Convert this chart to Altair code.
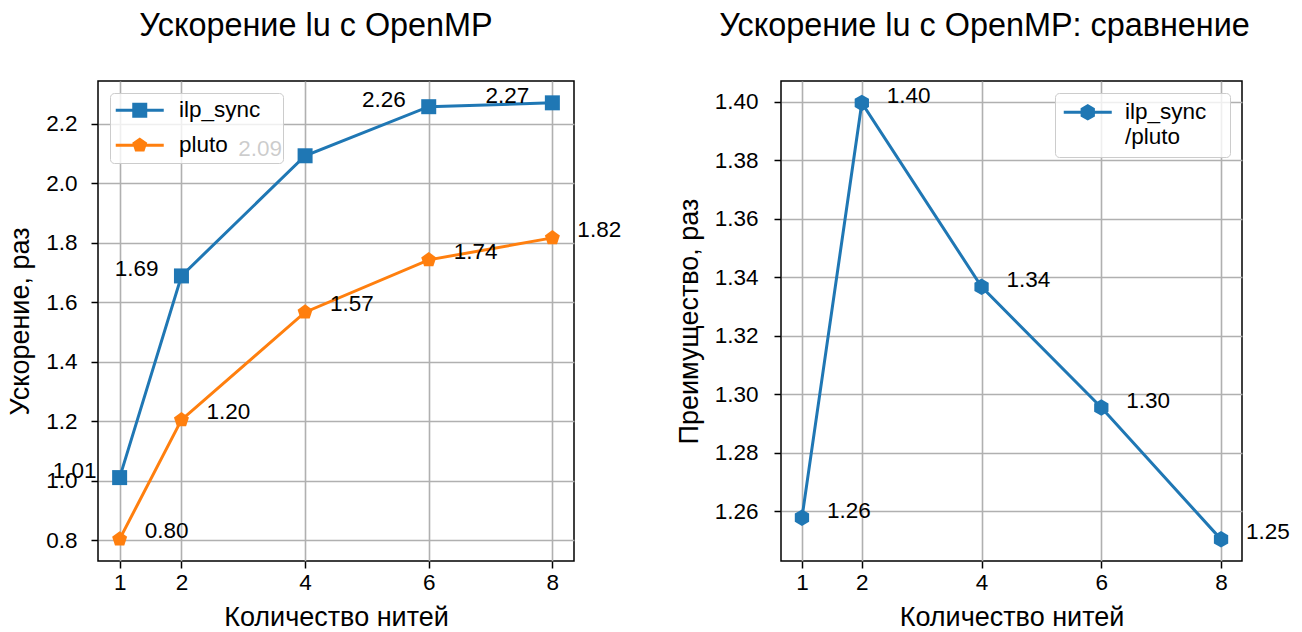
import altair as alt
import pandas as pd

# ---------------- data ----------------
threads = [1, 2, 4, 6, 8]
ilp_sync = [1.010, 1.688, 2.092, 2.257, 2.270]
pluto = [0.803, 1.204, 1.566, 1.742, 1.816]
ratio = [1.2577, 1.3996, 1.3367, 1.2954, 1.2503]
series_names = ["ilp_sync", "pluto"]
ratio_name = "ilp_sync/pluto"
x_ticks = [1, 2, 4, 6, 8]
left_y_ticks = [0.8, 1.0, 1.2, 1.4, 1.6, 1.8, 2.0, 2.2]
right_y_ticks = [1.26, 1.28, 1.30, 1.32, 1.34, 1.36, 1.38, 1.40]
title_left = "Ускорение lu с OpenMP"
title_right = "Ускорение lu с OpenMP: сравнение"
x_title = "Количество нитей"
y_title_left = "Ускорение, раз"
y_title_right = "Преимущество, раз"

# ---------------- styles ----------------
FONT = "Liberation Sans"
C_BLUE = "#1f77b4"
C_ORANGE = "#ff7f0e"
colors = [C_BLUE, C_ORANGE]
SQUARE = "M-1,-1H1V1H-1Z"
PENT = "M0,-1.05L0.999,-0.324L0.617,0.849L-0.617,0.849L-0.999,-0.324Z"
HEXA = "M0,-1.1L0.953,-0.55L0.953,0.55L0,1.1L-0.953,0.55L-0.953,-0.55Z"
LINE = "M-3.2,-0.2H3.2V0.2H-3.2Z "
# zero-area move-to that only widens the legend frame (matplotlib-like right padding)
WIDEN_L = " M18.3,0"
WIDEN_R = " M17.9,0"
MSIZE = 225
TICK_FS = 22.5
LABEL_FS = 27
TITLE_FS = 32.4

rows = []
for t, v in zip(threads, ilp_sync):
    rows.append({"threads": t, "value": v, "series": series_names[0]})
for t, v in zip(threads, pluto):
    rows.append({"threads": t, "value": v, "series": series_names[1]})
df_left = pd.DataFrame(rows)
df_right = pd.DataFrame({"threads": threads, "value": ratio, "series": [ratio_name] * len(threads)})


def x_enc():
    return alt.X(
        "threads:Q",
        scale=alt.Scale(domain=[0.65, 8.35], nice=False, zero=False),
        axis=alt.Axis(values=x_ticks, title=x_title, format="d"),
    )


def legend_params(extra=None):
    p = dict(
        title=None,
        orient="top-left",
        offset=12,
        padding=8,
        fillColor="rgba(255,255,255,0.8)",
        strokeColor="#cccccc",
        cornerRadius=4,
        labelFont=FONT,
        labelFontSize=TICK_FS,
        labelColor="black",
        symbolSize=MSIZE,
        symbolOffset=13.5,
        labelOffset=26,
        rowPadding=14,
        symbolStrokeWidth=0,
        symbolOpacity=1,
    )
    if extra:
        p.update(extra)
    return alt.Legend(**p)


# ---------------- left chart ----------------
y_left = alt.Y(
    "value:Q",
    scale=alt.Scale(domain=[0.7296, 2.3434], nice=False, zero=False),
    axis=alt.Axis(values=left_y_ticks, title=y_title_left, format=".1f", labelPadding=14),
)
color_left = alt.Scale(domain=series_names, range=colors)

base_left = alt.Chart(df_left)
lines_left = base_left.mark_line(strokeWidth=3).encode(
    x=x_enc(), y=y_left, color=alt.Color("series:N", scale=color_left, legend=None),
    detail="series:N",
)
points_left = base_left.mark_point(filled=True, opacity=1, size=MSIZE).encode(
    x=x_enc(), y=y_left,
    color=alt.Color("series:N", scale=color_left, legend=None),
    shape=alt.Shape("series:N", scale=alt.Scale(domain=series_names, range=[SQUARE, PENT]), legend=None),
)
text_ilp = base_left.transform_filter(alt.datum.series == series_names[0]).mark_text(
    align="right", baseline="middle", dx=-23, dy=-7, font=FONT, fontSize=TICK_FS, color="black"
).encode(x=x_enc(), y=y_left, text=alt.Text("value:Q", format=".2f"))
text_pluto = base_left.transform_filter(alt.datum.series == series_names[1]).mark_text(
    align="left", baseline="middle", dx=25, dy=-8, font=FONT, fontSize=TICK_FS, color="black"
).encode(x=x_enc(), y=y_left, text=alt.Text("value:Q", format=".2f"))
llegend = dict(padding=6, symbolOffset=12.5, labelOffset=28, rowPadding=12)
legend_left = base_left.transform_filter("false").mark_point(filled=True, opacity=1, size=MSIZE).encode(
    x=x_enc(), y=y_left,
    color=alt.Color("series:N", scale=color_left, legend=legend_params(llegend)),
    shape=alt.Shape("series:N",
                    scale=alt.Scale(domain=series_names,
                                    range=[LINE + SQUARE + WIDEN_L, LINE + PENT + WIDEN_L]),
                    legend=legend_params(llegend)),
)

left = alt.layer(lines_left, points_left, text_ilp, text_pluto, legend_left).resolve_scale(
    color="independent", shape="independent"
).properties(
    width=476, height=480,
    title=alt.TitleParams(title_left, font=FONT, fontSize=TITLE_FS, fontWeight="normal", color="black",
                          anchor="middle", dx=-20, baseline="alphabetic", offset=13),
)

# ---------------- right chart ----------------
y_right = alt.Y(
    "value:Q",
    scale=alt.Scale(domain=[1.2429, 1.4071], nice=False, zero=False),
    axis=alt.Axis(values=right_y_ticks, title=y_title_right, format=".2f", labelPadding=16),
)
color_right = alt.Scale(domain=[ratio_name], range=[C_BLUE])
base_right = alt.Chart(df_right)
lines_right = base_right.mark_line(strokeWidth=3).encode(
    x=x_enc(), y=y_right, color=alt.Color("series:N", scale=color_right, legend=None)
)
points_right = base_right.mark_point(filled=True, opacity=1, size=MSIZE).encode(
    x=x_enc(), y=y_right,
    color=alt.Color("series:N", scale=color_right, legend=None),
    shape=alt.Shape("series:N", scale=alt.Scale(domain=[ratio_name], range=[HEXA]), legend=None),
)
text_right = base_right.mark_text(
    align="left", baseline="middle", dx=25, dy=-7, font=FONT, fontSize=TICK_FS, color="black"
).encode(x=x_enc(), y=y_right, text=alt.Text("value:Q", format=".2f"))
rlegend = dict(orient="top-right",
               labelExpr="split(datum.label, '/')[0] == 'ilp_sync' ? ['ilp_sync', '/pluto'] : datum.label")
legend_right = base_right.transform_filter("false").mark_point(filled=True, opacity=1, size=MSIZE).encode(
    x=x_enc(), y=y_right,
    color=alt.Color("series:N", scale=color_right, legend=legend_params(rlegend)),
    shape=alt.Shape("series:N", scale=alt.Scale(domain=[ratio_name], range=[LINE + HEXA + WIDEN_R]),
                    legend=legend_params(rlegend)),
)
right = alt.layer(lines_right, points_right, text_right, legend_right).resolve_scale(
    color="independent", shape="independent"
).properties(
    width=461, height=480,
    title=alt.TitleParams(title_right, font=FONT, fontSize=TITLE_FS, fontWeight="normal", color="black",
                          anchor="middle", dx=-27, baseline="alphabetic", offset=13),
)

chart = alt.hconcat(left, right, spacing=52).properties(
    padding={"left": -3, "top": 0, "right": 0, "bottom": 0}
).configure_view(
    stroke="black", strokeWidth=1.5
).configure_axis(
    labelFont=FONT, labelFontSize=TICK_FS, labelColor="black",
    titleFont=FONT, titleFontSize=LABEL_FS, titleColor="black", titleFontWeight="normal",
    tickColor="black", tickSize=7, tickWidth=1.5, domain=False,
    gridColor="#b0b0b0", gridWidth=1.6, gridOpacity=1,
).configure_axisY(titlePadding=11).configure_axisX(labelPadding=3, titlePadding=11)

chart.save("out.html", embed_options={"renderer": "svg", "actions": False})
